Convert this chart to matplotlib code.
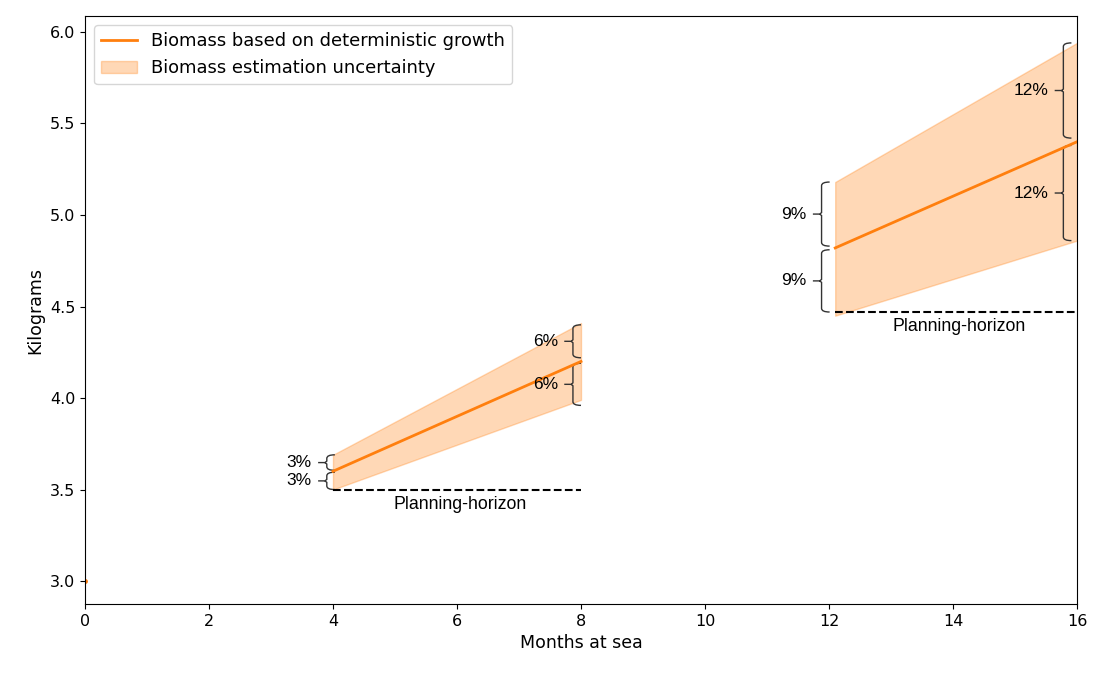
import matplotlib
matplotlib.use("Agg")
import matplotlib.pyplot as plt
from matplotlib.path import Path
from matplotlib.patches import PathPatch

# start point
start_x = [0]
start_y = [3.0]

# two planning periods
seg_x = [[4, 8], [12.1, 16]]
line_y = [[3.6, 4.2], [4.82, 5.40]]
upper_y = [[3.69, 4.41], [5.18, 5.94]]
lower_y = [[3.50, 3.99], [4.45, 4.86]]
horizon_y = [3.5, 4.47]

# braces: x of vertical, (bottom, top), label
brace_x = [3.9, 3.9, 7.87, 7.87, 11.88, 11.88, 15.78, 15.78]
brace_span = [(3.50, 3.595), (3.605, 3.69), (3.96, 4.19), (4.22, 4.40),
              (4.47, 4.81), (4.83, 5.18), (4.86, 5.38), (5.42, 5.94)]
brace_lab = ["3%", "3%", "6%", "6%", "9%", "9%", "12%", "12%"]

orange = "#ff7f0e"
plt.rcParams["font.size"] = 11.5

fig = plt.figure(figsize=(10.97, 6.73), dpi=100)
ax = fig.add_axes([85/1097, 1-604/673, 992/1097, 588/673])

ax.plot(start_x, start_y, "o", color=orange, ms=2.5)
for i in range(2):
    ax.plot(seg_x[i], line_y[i], color=orange, lw=2,
            label="Biomass based on deterministic growth" if i == 0 else None)
    ax.fill_between(seg_x[i], lower_y[i], upper_y[i], color=orange, alpha=0.3,
                    label="Biomass estimation uncertainty" if i == 0 else None)
    ax.plot(seg_x[i], [horizon_y[i]] * 2, "k--", lw=1.5)
    ax.text((seg_x[i][0] + seg_x[i][1]) / 2 + 0.05, horizon_y[i] - 0.035, "Planning-horizon",
            ha="center", va="top", fontsize=12.8, family="Liberation Sans")


def brace(x, y0, y1, label):
    h = 0.13   # hook length
    t = 0.14   # tick length
    r = 0.02
    m = (y0 + y1) / 2
    verts = [(x + h, y1), (x, y1), (x, y1 - r),
             (x, m + 0.008), (x - 0.03, m), (x - t, m),
             (x - 0.03, m), (x, m - 0.008),
             (x, y0 + r), (x, y0), (x + h, y0)]
    codes = [Path.MOVETO, Path.CURVE3, Path.CURVE3,
             Path.LINETO, Path.LINETO, Path.LINETO,
             Path.MOVETO, Path.LINETO,
             Path.LINETO, Path.CURVE3, Path.CURVE3]
    ax.add_patch(PathPatch(Path(verts, codes), fc="none", ec="#333333", lw=1))
    ax.text(x - t - 0.1, m, label, ha="right", va="center", fontsize=12.5,
            family="Liberation Sans")


for bx, (b0, b1), lab in zip(brace_x, brace_span, brace_lab):
    brace(bx, b0, b1, lab)

ax.set_xlim(0, 16)
ax.set_ylim(2.875, 6.087)
ax.set_xticks(range(0, 17, 2))
ax.set_xlabel("Months at sea", fontsize=12.5)
ax.set_ylabel("Kilograms", fontsize=12.5)
ax.legend(loc="upper left", fontsize=12.9)

fig.savefig("out.png", dpi=100)
